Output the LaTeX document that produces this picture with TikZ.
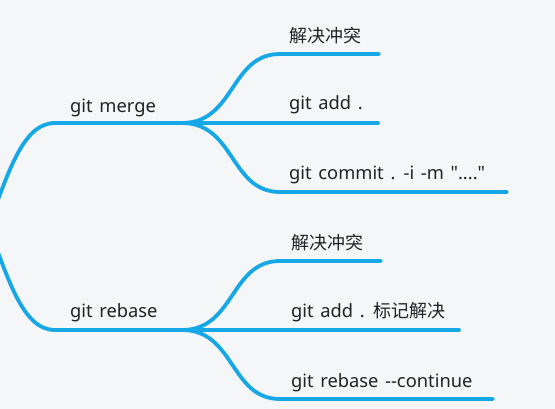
\documentclass[tikz,border=0pt]{standalone}
\usepackage{fontspec}
\setmainfont{Noto Sans}[Ligatures=TeXOff,WordSpace=1.4]
\newfontfamily\cjkfont{Noto Sans CJK SC}[Ligatures=TeXOff]
\newcommand{\zh}[1]{{\cjkfont\fontsize{18}{21}\selectfont #1}}
\definecolor{bg}{HTML}{F5F6F8}
\definecolor{branch}{HTML}{16A8E6}
\definecolor{txt}{HTML}{222222}
\begin{document}
\begin{tikzpicture}[x=1pt,y=-1pt,
  br/.style={draw=branch,line width=3.8pt,line cap=round},
  lbl/.style={text=txt,font=\fontsize{18.3}{21}\selectfont,anchor=base west,inner sep=0pt}]
\fill[bg] (0,0) rectangle (555,409);
\useasboundingbox (0,0) rectangle (555,409);
\clip (0,0) rectangle (555,409);
% root and branch points
\coordinate (root) at (-12,226);
\coordinate (m0) at (55,123);
\coordinate (m) at (182,123);
\coordinate (r0) at (55,330);
\coordinate (r) at (182,330);
% merge children
\coordinate (m1s) at (280,54);  \coordinate (m1e) at (379,54);
\coordinate (m2e) at (378,123);
\coordinate (m3s) at (280,192); \coordinate (m3e) at (507,192);
% rebase children
\coordinate (r1s) at (280,261); \coordinate (r1e) at (381,261);
\coordinate (r2e) at (459,330);
\coordinate (r3s) at (280,399); \coordinate (r3e) at (493,399);
% labels
\node[lbl] (lm) at (70,112.5) {git merge};
\node[lbl] (lr) at (70,317) {git rebase};
\node[lbl] (a1) at (289,42.5) {\zh{解决冲突}};
\node[lbl] (a2) at (289,110) {git add .};
\node[lbl] (a3) at (289,180) {git commit . -i -m "...."};
\node[lbl] (b1) at (291,249.5) {\zh{解决冲突}};
\node[lbl] (b2) at (291,317) {git add . \zh{标记解决}};
\node[lbl] (b3) at (291,387) {git rebase --continue};
% connectors
\draw[br] (root) .. controls (8,175) and (22,123) .. (m0) -- (m);
\draw[br] (root) .. controls (8,277) and (22,330) .. (r0) -- (r);
\draw[br] (m) .. controls (235,123) and (230,54) .. (m1s) -- (m1e);
\draw[br] (m) -- (m2e);
\draw[br] (m) .. controls (235,123) and (230,192) .. (m3s) -- (m3e);
\draw[br] (r) .. controls (235,330) and (230,261) .. (r1s) -- (r1e);
\draw[br] (r) -- (r2e);
\draw[br] (r) .. controls (235,330) and (230,399) .. (r3s) -- (r3e);
\end{tikzpicture}
\end{document}
